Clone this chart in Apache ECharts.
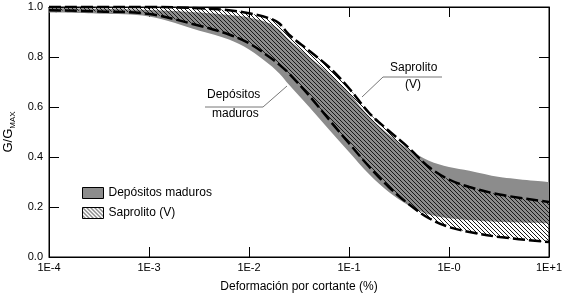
<!DOCTYPE html>
<html>
<head>
<meta charset="utf-8">
<script src="https://cdn.jsdelivr.net/npm/echarts@6/dist/echarts.min.js"></script>
<style>
  html, body { margin: 0; padding: 0; background: #fff; }
  #chart { width: 566px; height: 294px; }
</style>
</head>
<body>
<div id="chart"></div>
<script>
// deformación por cortante (%) - puntos de lectura
var strain = [0.0001, 0.00032, 0.001, 0.0032, 0.0063, 0.01, 0.016, 0.02, 0.025, 0.04,
              0.063, 0.1, 0.16, 0.25, 0.4, 0.63, 1, 1.6, 3.2, 10];

// Depósitos maduros (banda gris)
var deposUpper = [0.995, 0.993, 0.988, 0.978, 0.968, 0.958, 0.935, 0.91, 0.87, 0.80,
                  0.735, 0.655, 0.56, 0.49, 0.43, 0.385, 0.36, 0.345, 0.32, 0.30];
var deposLower = [0.978, 0.973, 0.962, 0.905, 0.87, 0.83, 0.77, 0.735, 0.69, 0.60,
                  0.51, 0.42, 0.33, 0.26, 0.205, 0.17, 0.155, 0.148, 0.14, 0.135];

// Saprolito (V) (banda rayada, bordes discontinuos)
var saproUpper = [1.0, 1.0, 1.0, 0.995, 0.987, 0.975, 0.955, 0.935, 0.89, 0.825,
                  0.76, 0.675, 0.575, 0.505, 0.435, 0.36, 0.31, 0.28, 0.25, 0.22];
var saproLower = [0.987, 0.982, 0.972, 0.925, 0.89, 0.855, 0.80, 0.77, 0.735, 0.645,
                  0.55, 0.455, 0.36, 0.28, 0.21, 0.155, 0.12, 0.10, 0.08, 0.06];

var xTickLabels = ['1E-4', '1E-3', '1E-2', '1E-1', '1E-0', '1E+1'];

var FONT = 'Liberation Sans, Arial, sans-serif';

// pares [y, x]: el primer valor es el que se apila
function pairs(xs, ys) {
    var arr = [];
    for (var i = 0; i < xs.length; i++) {
        arr.push([ys[i], xs[i]]);
    }
    return arr;
}
// ancho de banda para apilar
function band(up, lo) {
    var arr = [];
    for (var i = 0; i < up.length; i++) {
        arr.push(+(up[i] - lo[i]).toFixed(4));
    }
    return arr;
}
// textura rayada "\\\\"
function hatchCanvas() {
    var c = document.createElement('canvas');
    c.width = 4;
    c.height = 4;
    var ctx = c.getContext('2d');
    ctx.fillStyle = '#1a1a1a';
    for (var i = 0; i < 4; i++) {
        ctx.fillRect(i, i, 1, 1);
    }
    return c;
}
var hatch = { image: hatchCanvas(), repeat: 'repeat' };
var dashed = { color: '#000', width: 2.5, type: [12, 4] };
var enc = { x: 1, y: 0 };
var frameLine = { onZero: false, lineStyle: { color: '#000', width: 1 } };
var inTick = { inside: true, length: 10, lineStyle: { color: '#000' } };

var chart = echarts.init(document.getElementById('chart'));
var option = {
    animation: false,
    textStyle: { fontFamily: FONT },
    grid: {
        left: 49, right: 17, top: 7, bottom: 37,
        containLabel: false,
        outerBoundsMode: 'none',
        show: true, borderColor: '#000', borderWidth: 1, backgroundColor: 'transparent'
    },
    legend: {
        orient: 'vertical',
        left: 77,
        top: 182,
        icon: 'rect',
        itemWidth: 21,
        itemHeight: 11,
        itemGap: 8,
        selectedMode: false,
        textStyle: { fontSize: 12, color: '#000', fontFamily: FONT },
        data: [
            { name: 'Depósitos maduros', itemStyle: { color: '#8c8c8c', borderColor: '#000', borderWidth: 1 } },
            { name: 'Saprolito (V)', itemStyle: { color: hatch, borderColor: '#000', borderWidth: 1 } }
        ]
    },
    xAxis: [{
        type: 'log',
        logBase: 10,
        min: 0.0001,
        max: 10,
        name: 'Deformación por cortante (%)',
        nameLocation: 'middle',
        nameGap: 24,
        nameTextStyle: { fontSize: 12, color: '#000', fontFamily: FONT },
        axisLine: frameLine,
        axisTick: inTick,
        minorTick: { show: false },
        splitLine: { show: false },
        axisLabel: {
            color: '#000', fontSize: 11, margin: 5, fontFamily: FONT,
            formatter: function (v) {
                return xTickLabels[Math.round(Math.log10(v)) + 4];
            }
        }
    }, {
        type: 'log',
        logBase: 10,
        min: 0.0001,
        max: 10,
        position: 'top',
        axisLine: frameLine,
        axisTick: inTick,
        axisLabel: { show: false },
        splitLine: { show: false }
    }],
    yAxis: [{
        type: 'value',
        min: 0,
        max: 1,
        interval: 0.2,
        name: '{a|G/G}{b|MAX}',
        nameLocation: 'middle',
        nameRotate: 90,
        nameGap: 32,
        nameTextStyle: {
            color: '#000',
            rich: {
                a: { fontSize: 13, color: '#000', fontFamily: FONT, lineHeight: 16 },
                b: { fontSize: 8, color: '#000', fontFamily: FONT, lineHeight: 16, verticalAlign: 'bottom', padding: [5, 0, 0, 0] }
            }
        },
        axisLine: frameLine,
        axisTick: inTick,
        splitLine: { show: false },
        axisLabel: {
            color: '#000', fontSize: 11, margin: 6, fontFamily: FONT,
            formatter: function (v) { return v.toFixed(1); }
        }
    }, {
        type: 'value',
        min: 0,
        max: 1,
        interval: 0.2,
        position: 'right',
        axisLine: frameLine,
        axisTick: inTick,
        axisLabel: { show: false },
        splitLine: { show: false }
    }],
    series: [{
        name: 'depBase',
        type: 'line',
        stack: 'dep',
        encode: enc,
        smooth: 0.35,
        symbol: 'none',
        clip: false,
        lineStyle: { opacity: 0 },
        data: pairs(strain, deposLower),
        z: 1
    }, {
        name: 'Depósitos maduros',
        type: 'line',
        stack: 'dep',
        encode: enc,
        smooth: 0.35,
        symbol: 'none',
        clip: false,
        lineStyle: { opacity: 0 },
        itemStyle: { color: '#8c8c8c' },
        areaStyle: { color: '#8c8c8c', opacity: 1 },
        data: pairs(strain, band(deposUpper, deposLower)),
        z: 1
    }, {
        name: 'sapBase',
        type: 'line',
        stack: 'sap',
        encode: enc,
        smooth: 0.35,
        symbol: 'none',
        clip: false,
        lineStyle: { opacity: 0 },
        data: pairs(strain, saproLower),
        z: 2
    }, {
        name: 'Saprolito (V)',
        type: 'line',
        stack: 'sap',
        encode: enc,
        smooth: 0.35,
        symbol: 'none',
        clip: false,
        lineStyle: dashed,
        areaStyle: { color: hatch, opacity: 1 },
        data: pairs(strain, band(saproUpper, saproLower)),
        z: 2
    }, {
        name: 'sapLower',
        type: 'line',
        encode: enc,
        smooth: 0.35,
        symbol: 'none',
        clip: false,
        lineStyle: dashed,
        data: pairs(strain, saproLower),
        z: 3
    }],
    graphic: [
        { type: 'text', left: 207, top: 89, style: { text: 'Depósitos', font: '12px ' + FONT, fill: '#000' } },
        { type: 'text', left: 212, top: 108, style: { text: 'maduros', font: '12px ' + FONT, fill: '#000' } },
        { type: 'polyline', shape: { points: [[205, 107], [263, 107], [287, 86]] }, style: { stroke: '#777', lineWidth: 1, fill: null } },
        { type: 'text', left: 390, top: 62, style: { text: 'Saprolito', font: '12px ' + FONT, fill: '#000' } },
        { type: 'text', left: 405, top: 79, style: { text: '(V)', font: '12px ' + FONT, fill: '#000' } },
        { type: 'polyline', shape: { points: [[442, 77], [383, 77], [362, 97]] }, style: { stroke: '#777', lineWidth: 1, fill: null } }
    ]
};
chart.setOption(option);
</script>
</body>
</html>
